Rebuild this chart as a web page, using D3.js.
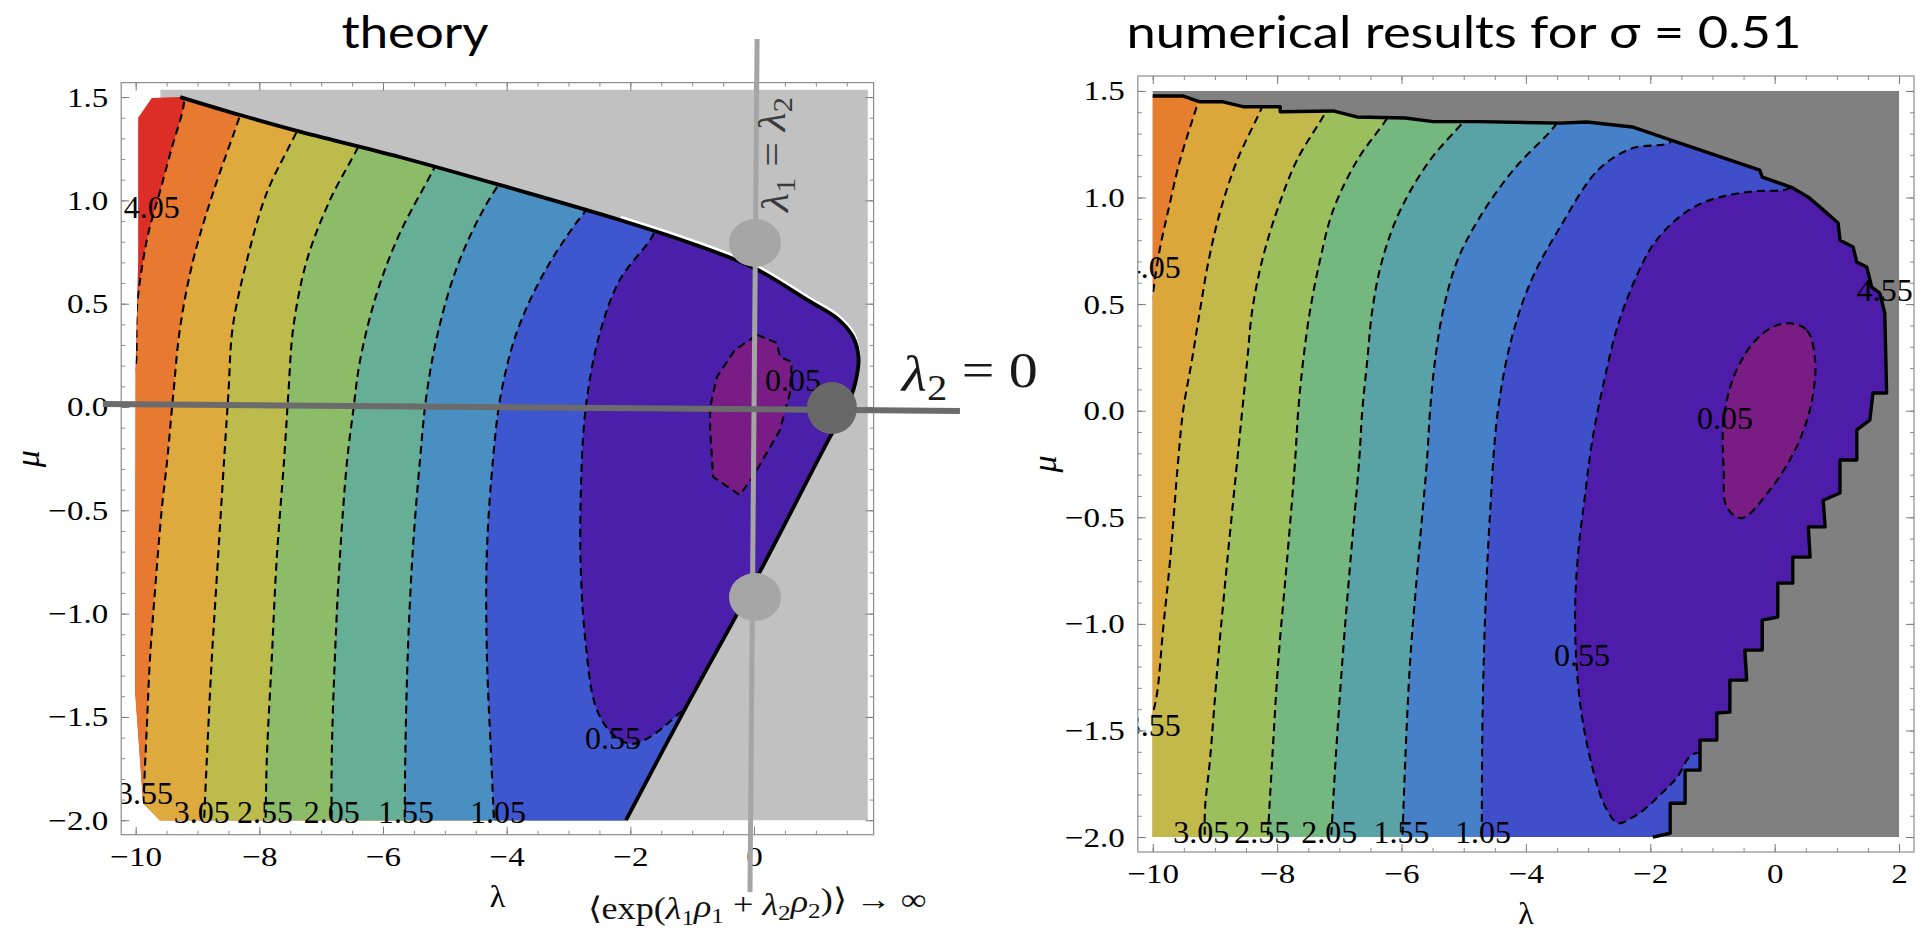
<!DOCTYPE html>
<html>
<head>
<meta charset="utf-8">
<title>theory vs numerical results</title>
<script src="https://cdn.jsdelivr.net/npm/d3@7"></script>
<style>
  body { margin: 0; background: #fff; }
  svg { display: block; }
  .serif { font-family: "Liberation Serif", "Times New Roman", serif; }
</style>
</head>
<body>
<svg id="chart" width="1924" height="934"></svg>
<script>
const svg = d3.select("#chart");
const serif = "Liberation Serif";

// ---------- left panel: theory (points are [lambda, mu]) ----------
const thColors = ["#dc2e26", "#e87930", "#dea93d", "#bcbb4b", "#8cbc68", "#66ae95", "#4a8fc1", "#3e57cf", "#4a20ab", "#7a1c86"];
const thKinds = ["side", "side", "side", "side", "side", "side", "side", "cup", "loop"];
const th405 = [[-10.06, 0.15], [-10.0, 0.2], [-9.98, 0.48], [-9.88, 0.71], [-9.78, 0.86], [-9.61, 1.04], [-9.42, 1.25], [-9.23, 1.45], [-9.18, 1.6]];
const th355 = [[-9.9, -2.05], [-9.87, -1.87], [-9.82, -1.55], [-9.77, -1.225], [-9.69, -0.9], [-9.58, -0.5], [-9.49, -0.257], [-9.39, 0.068], [-9.28, 0.387], [-9.07, 0.711], [-8.75, 1.036], [-8.31, 1.413], [-8.2, 1.52]];
const th305 = [[-8.9, -2.05], [-8.85, -1.71], [-8.77, -1.225], [-8.67, -0.74], [-8.57, -0.257], [-8.5, 0.068], [-8.43, 0.387], [-8.2, 0.711], [-7.88, 1.036], [-7.39, 1.336], [-7.25, 1.43]];
const th255 = [[-7.9, -2.05], [-7.88, -1.71], [-7.8, -1.225], [-7.72, -0.74], [-7.6, -0.257], [-7.53, 0.068], [-7.45, 0.387], [-7.23, 0.711], [-6.86, 1.0], [-6.4, 1.26], [-6.25, 1.36]];
const th205 = [[-6.83, -2.05], [-6.83, -1.71], [-6.78, -1.225], [-6.7, -0.74], [-6.58, -0.257], [-6.48, -0.015], [-6.37, 0.227], [-6.1, 0.55], [-5.73, 0.84], [-5.2, 1.14], [-5.0, 1.26]];
const th155 = [[-5.65, -2.05], [-5.64, -1.7], [-5.6, -1.2], [-5.52, -0.7], [-5.4, -0.25], [-5.3, 0.05], [-5.12, 0.35], [-4.8, 0.68], [-4.35, 0.97], [-3.85, 1.2]];
const th105 = [[-4.2, -2.05], [-4.25, -1.7], [-4.32, -1.2], [-4.32, -0.7], [-4.22, -0.25], [-4.1, 0.05], [-3.85, 0.35], [-3.45, 0.62], [-2.95, 0.86], [-2.45, 1.05]];
const th055 = [[-1.55, 0.9], [-1.65, 0.823], [-2.17, 0.615], [-2.5, 0.35], [-2.72, 0.0], [-2.8, -0.4], [-2.8, -0.8], [-2.72, -1.15], [-2.56, -1.45], [-2.3, -1.58], [-2.0, -1.63], [-1.7, -1.6], [-1.2, -1.48], [-1.0, -1.42]];
const th005 = [[0.05, 0.349], [0.37, 0.31], [0.42, 0.242], [0.61, 0.218], [0.58, 0.068], [0.42, -0.111], [-0.02, -0.339], [-0.23, -0.426], [-0.66, -0.339], [-0.71, -0.111], [-0.71, 0.0], [-0.6, 0.145], [-0.31, 0.276]];
const thLabelText = ["4.05", "3.55", "3.05", "2.55", "2.05", "1.55", "1.05", "0.55", "0.05"];
const thLabelLam = [-9.74, -9.85, -8.93, -7.91, -6.83, -5.63, -4.14, -2.28, 0.63];
const thLabelMu = [0.968, -1.868, -1.96, -1.96, -1.96, -1.96, -1.96, -1.6, 0.13];
// edge of the allowed region (thick black curve) and the remaining corners
const thEdge = [[-9.28, 1.5], [-8.31, 1.413], [-7.39, 1.336], [-5.73, 1.21], [-4.0, 1.065], [-2.17, 0.905], [-1.0, 0.79], [0, 0.673], [0.86, 0.518], [1.34, 0.43], [1.6, 0.34], [1.69, 0.24], [1.64, 0.12], [1.5, 0.0], [1.23, -0.145], [0.05, -0.823], [-1.15, -1.48], [-2.07, -2.0]];
const thCorner = [[-9.61, -2.0], [-9.88, -1.917], [-10.01, -1.37], [-10.0, 0.2], [-9.96, 0.71], [-9.96, 1.4], [-9.74, 1.496]];
const thGray = [[-9.6, 1.535], [1.84, 1.535], [1.84, -2.0], [-9.6, -2.0]];
const thXTicks = [-10, -8, -6, -4, -2, 0];
const thYTicks = [-2, -1.5, -1, -0.5, 0, 0.5, 1, 1.5];
// annotation guides
const guideH = [[-10.53, 0.0145], [3.33, -0.019]];
const guideV = [[0.05, 1.781], [-0.065, -2.348]];
const dotsLight = [[0.016, 0.794], [0.016, -0.92]];
const dotsDark = [[1.26, -0.005]];

// ---------- right panel: numerical results ----------
const nuColors = ["#e67e30", "#dba73b", "#c3b84a", "#9bbf5d", "#74b77f", "#59a3a6", "#4680c8", "#3f4fca", "#4d1ca9", "#791c83"];
const nuKinds = ["side", "side", "side", "side", "side", "side", "side", "cup", "loop"];
const nu405 = [[-10.06, 0.5], [-10.0, 0.55], [-9.96, 0.627], [-9.88, 0.767], [-9.75, 0.94], [-9.56, 1.176], [-9.27, 1.448], [-9.2, 1.52]];
const nu355 = [[-10.06, -1.46], [-10.0, -1.418], [-9.93, -1.325], [-9.83, -1.015], [-9.72, -0.7], [-9.59, -0.231], [-9.51, 0.003], [-9.37, 0.237], [-9.24, 0.471], [-9.1, 0.706], [-8.91, 0.94], [-8.64, 1.176], [-8.24, 1.426], [-8.15, 1.5]];
const nu305 = [[-9.16, -2.05], [-9.16, -1.87], [-9.08, -1.64], [-8.95, -1.17], [-8.8, -0.7], [-8.64, -0.231], [-8.56, 0.003], [-8.48, 0.237], [-8.4, 0.471], [-8.24, 0.706], [-8.0, 0.94], [-7.68, 1.176], [-7.23, 1.396], [-7.1, 1.48]];
const nu255 = [[-8.16, -2.05], [-8.08, -1.64], [-7.98, -1.17], [-7.84, -0.7], [-7.71, -0.231], [-7.66, 0.003], [-7.58, 0.237], [-7.47, 0.471], [-7.31, 0.706], [-7.1, 0.94], [-6.71, 1.176], [-6.23, 1.373], [-6.1, 1.45]];
const nu205 = [[-7.14, -2.05], [-7.06, -1.64], [-6.95, -1.17], [-6.82, -0.7], [-6.68, -0.231], [-6.63, 0.003], [-6.55, 0.237], [-6.47, 0.471], [-6.31, 0.706], [-6.02, 0.94], [-5.54, 1.176], [-5.01, 1.354], [-4.85, 1.42]];
const nu155 = [[-5.99, -2.05], [-5.94, -1.64], [-5.86, -1.17], [-5.73, -0.7], [-5.59, -0.231], [-5.54, 0.003], [-5.46, 0.237], [-5.33, 0.471], [-5.1, 0.706], [-4.74, 0.908], [-4.2, 1.13], [-3.55, 1.33], [-3.4, 1.4]];
const nu105 = [[-4.71, -2.05], [-4.7, -1.5], [-4.66, -1.0], [-4.58, -0.5], [-4.45, 0.0], [-4.22, 0.35], [-3.9, 0.62], [-3.45, 0.861], [-2.84, 1.129], [-2.3, 1.23], [-1.68, 1.26], [-1.6, 1.32]];
const nu055 = [[0.35, 1.1], [0.24, 1.044], [-0.3, 1.03], [-0.76, 1.01], [-1.2, 0.97], [-1.57, 0.9], [-1.9, 0.8], [-2.11, 0.7], [-2.49, 0.43], [-2.75, 0.13], [-2.94, -0.152], [-3.05, -0.4], [-3.16, -0.668], [-3.21, -0.982], [-3.13, -1.37], [-2.92, -1.686], [-2.72, -1.86], [-2.52, -1.935], [-2.3, -1.91], [-2.11, -1.874], [-1.8, -1.79], [-1.57, -1.72], [-1.31, -1.61], [-0.8, -1.62]];
const nu005 = [[0.24, 0.41], [0.52, 0.377], [0.65, 0.237], [0.62, 0.083], [0.52, -0.044], [0.3, -0.2], [-0.08, -0.373], [-0.53, -0.504], [-0.77, -0.452], [-0.82, -0.278], [-0.82, -0.044], [-0.66, 0.158], [-0.35, 0.316], [-0.03, 0.393]];
const nuLabelText = ["4.05", "3.55", "3.05", "2.55", "2.05", "1.55", "1.05", "0.55", "0.05", "4.55"];
const nuLabelLam = [-10.0, -10.0, -9.22, -8.24, -7.16, -6.0, -4.69, -3.1, -0.8, 1.77];
const nuLabelMu = [0.673, -1.475, -1.977, -1.977, -1.977, -1.977, -1.977, -1.146, -0.034, 0.565];
// ragged edge of the converged region, from the top-left corner round to the bottom
const nuEdge = [[-10.0, 1.476], [-9.51, 1.476], [-9.24, 1.449], [-8.87, 1.449], [-8.55, 1.426], [-7.95, 1.426], [-7.95, 1.402], [-7.1, 1.406], [-6.72, 1.378], [-5.94, 1.373], [-5.49, 1.356], [-4.74, 1.356], [-3.45, 1.349], [-3.02, 1.354], [-2.29, 1.331], [-1.68, 1.27], [-0.24, 1.129], [-0.2, 1.096], [0.29, 1.045], [0.54, 1.002], [0.73, 0.955], [1.02, 0.88], [1.05, 0.8], [1.26, 0.768], [1.32, 0.697], [1.48, 0.674], [1.56, 0.58], [1.69, 0.552], [1.77, 0.458], [1.8, 0.083], [1.58, 0.083], [1.53, -0.044], [1.32, -0.09], [1.32, -0.231], [1.05, -0.231], [1.05, -0.386], [0.78, -0.42], [0.81, -0.545], [0.54, -0.545], [0.57, -0.687], [0.29, -0.687], [0.29, -0.809], [0.05, -0.809], [0.05, -0.968], [-0.2, -0.982], [-0.2, -1.123], [-0.48, -1.123], [-0.45, -1.264], [-0.72, -1.264], [-0.72, -1.414], [-0.93, -1.418], [-0.93, -1.545], [-1.2, -1.545], [-1.2, -1.686], [-1.44, -1.686], [-1.44, -1.841], [-1.68, -1.841], [-1.68, -1.982], [-1.96, -2.0]];
const nuGray = [[-10, 1.5], [2, 1.5], [2, -2], [-10, -2]];
const nuXTicks = [-10, -8, -6, -4, -2, 0, 2];
const nuYTicks = [-2, -1.5, -1, -0.5, 0, 0.5, 1, 1.5];

function drawPanel(p) {
  const x = d3.scaleLinear().domain(p.xDomain).range(p.xRange);
  const y = d3.scaleLinear().domain(p.yDomain).range(p.yRange);
  const smooth = d3.line().x(d => x(d[0])).y(d => y(d[1])).curve(d3.curveCatmullRom.alpha(0.5));
  const loop = d3.line().x(d => x(d[0])).y(d => y(d[1])).curve(p.loopCurve);
  const straight = d3.line().x(d => x(d[0])).y(d => y(d[1]));
  const to = d => `L${x(d[0])},${y(d[1])}`;
  const [left, right] = p.xRange, [bottom, top] = p.yRange;
  const g = svg.append("g");
  const defs = svg.append("defs");

  defs.append("clipPath").attr("id", p.id + "-frame").append("rect")
    .attr("x", left).attr("y", top).attr("width", right - left).attr("height", bottom - top);
  defs.append("clipPath").attr("id", p.id + "-dom").append("path")
    .attr("d", p.domain(smooth, straight, to));

  g.append("path").attr("d", straight(p.gray) + "Z").attr("fill", p.grayColor);

  // filled bands, painted from the high levels down
  const field = g.append("g").attr("clip-path", `url(#${p.id}-dom)`);
  field.append("rect").attr("x", left).attr("y", top)
    .attr("width", right - left).attr("height", bottom - top).attr("fill", p.colors[0]);

  const fillPath = (c, kind) => {
    const a = c[0], b = c[c.length - 1];
    if (kind === "loop") return loop(c);
    if (kind === "cup") return smooth(c) + to([9, b[1]]) + to([9, a[1]]) + "Z";
    return smooth(c) + to([b[0], 4]) + to([9, 4]) + to([9, -4]) + to([a[0], -4]) + "Z";
  };
  field.selectAll("path.band")
    .data(p.contours)
    .enter()
    .append("path")
    .attr("class", "band")
    .attr("d", (c, i) => fillPath(c, p.kinds[i]))
    .attr("fill", (c, i) => p.colors[i + 1]);

  field.selectAll("path.level")
    .data(p.contours)
    .enter()
    .append("path")
    .attr("class", "level")
    .attr("d", (c, i) => p.kinds[i] === "loop" ? loop(c) : smooth(c))
    .attr("fill", "none")
    .attr("stroke", "#000")
    .attr("stroke-width", 2.1)
    .attr("stroke-dasharray", "8,5");

  p.edge(g, smooth, straight, x, y);

  // contour labels
  g.append("g").attr("clip-path", `url(#${p.id}-frame)`)
    .selectAll("text")
    .data(p.labelText)
    .enter()
    .append("text")
    .attr("class", "serif")
    .attr("x", (d, i) => x(p.labelLam[i]))
    .attr("y", (d, i) => y(p.labelMu[i]))
    .attr("text-anchor", "middle")
    .attr("dominant-baseline", "central")
    .style("font-family", serif)
    .style("font-size", "32px")
    .text(d => d);

  // frame with inward ticks
  const xMinor = p.xMinor, yMinor = d3.range(-20, 16).map(v => v / 10);
  const sides = [
    [d3.axisBottom, x, `translate(0,${bottom})`, p.xTicks, xMinor, d3.format("d")],
    [d3.axisTop, x, `translate(0,${top})`, p.xTicks, xMinor, null],
    [d3.axisLeft, y, `translate(${left},0)`, p.yTicks, yMinor, d3.format(".1f")],
    [d3.axisRight, y, `translate(${right},0)`, p.yTicks, yMinor, null]
  ];
  sides.forEach(([make, scale, tr, major, minor, fmt]) => {
    const minorAxis = g.append("g").attr("transform", tr)
      .call(make(scale).tickValues(minor).tickSize(-4).tickSizeOuter(0).tickFormat(() => ""));
    minorAxis.select(".domain").remove();
    minorAxis.attr("color", "#8a8a8a");
    const majorAxis = g.append("g").attr("transform", tr)
      .call(make(scale).tickValues(major).tickSize(-8).tickSizeOuter(0).tickPadding(11)
        .tickFormat(fmt || (() => "")));
    majorAxis.select(".domain").remove();
    majorAxis.attr("color", "#7a7a7a");
    majorAxis.selectAll("text")
      .attr("fill", "#000")
      .attr("class", "serif")
      .style("font-family", serif)
      .style("font-size", "28px")
      .attr("transform", "scale(1.18,1)");
  });
  g.append("rect").attr("x", left).attr("y", top)
    .attr("width", right - left).attr("height", bottom - top)
    .attr("fill", "none").attr("stroke", "#8c8c8c").attr("stroke-width", 1.2);

  // axis names
  g.append("text")
    .attr("x", (left + right) / 2).attr("y", bottom + 72)
    .attr("text-anchor", "middle")
    .style("font-family", serif).style("font-size", "32px")
    .text("λ");
  g.append("text")
    .attr("transform", `translate(${left - 82},${(top + bottom) / 2}) rotate(-90)`)
    .attr("text-anchor", "middle")
    .style("font-family", serif).style("font-size", "34px").style("font-style", "italic")
    .text("μ");

  return { x, y, g };
}

// ---- left panel ----
const th = drawPanel({
  id: "th",
  xDomain: [-10.234, 1.934], xRange: [121.2, 873.6],
  yDomain: [-2.07, 1.57], yRange: [834.7, 82.6],
  colors: thColors, kinds: thKinds,
  contours: [th405, th355, th305, th255, th205, th155, th105, th055, th005],
  loopCurve: d3.curveLinearClosed,
  labelText: thLabelText, labelLam: thLabelLam, labelMu: thLabelMu,
  gray: thGray, grayColor: "#c0c1c0",
  xTicks: thXTicks, yTicks: thYTicks,
  xMinor: d3.range(-20, 4).map(v => v / 2),
  domain: (smooth, straight, to) => smooth(thEdge) + thCorner.map(to).join("") + "Z",
  edge: (g, smooth) => {
    g.append("path").attr("d", smooth(thEdge.slice(5, 12)))
      .attr("transform", "translate(1,-3)")
      .attr("fill", "none").attr("stroke", "#fff").attr("stroke-width", 2.5);
    g.append("path").attr("d", smooth(thEdge))
      .attr("fill", "none").attr("stroke", "#000").attr("stroke-width", 3.8);
  }
});

// ---- right panel ----
const nu = drawPanel({
  id: "nu",
  xDomain: [-10.24, 2.24], xRange: [1137.8, 1914],
  yDomain: [-2.07, 1.57], yRange: [852, 76],
  colors: nuColors, kinds: nuKinds,
  contours: [nu405, nu355, nu305, nu255, nu205, nu155, nu105, nu055, nu005],
  loopCurve: d3.curveCatmullRomClosed.alpha(0.5),
  labelText: nuLabelText, labelLam: nuLabelLam, labelMu: nuLabelMu,
  gray: nuGray, grayColor: "#808080",
  xTicks: nuXTicks, yTicks: nuYTicks,
  xMinor: d3.range(-20, 5).map(v => v / 2),
  domain: (smooth, straight, to) => straight(nuEdge) + to([-10, -2]) + "Z",
  edge: (g, smooth, straight) => {
    g.append("path").attr("d", straight(nuEdge))
      .attr("fill", "none").attr("stroke", "#000").attr("stroke-width", 3.4)
      .attr("stroke-linejoin", "round");
  }
});

// ---- annotations on the theory panel ----
const guide = d3.line().x(d => th.x(d[0])).y(d => th.y(d[1]));
const notes = svg.append("g");
notes.append("path").attr("d", guide(guideV))
  .attr("stroke", "#a5a5a5").attr("stroke-width", 5).attr("fill", "none");
notes.append("path").attr("d", guide(guideH))
  .attr("stroke", "#6b6b6b").attr("stroke-width", 6).attr("fill", "none");
notes.selectAll("ellipse.light")
  .data(dotsLight).enter().append("ellipse")
  .attr("class", "light")
  .attr("cx", d => th.x(d[0])).attr("cy", d => th.y(d[1]))
  .attr("rx", 26).attr("ry", 24).attr("fill", "#a6a6a6");
notes.selectAll("ellipse.dark")
  .data(dotsDark).enter().append("ellipse")
  .attr("class", "dark")
  .attr("cx", d => th.x(d[0])).attr("cy", d => th.y(d[1]))
  .attr("rx", 25).attr("ry", 26).attr("fill", "#686868");

function mathText(sel, parts) {
  parts.forEach(([s, kind]) => {
    const t = sel.append("tspan").text(s);
    if (kind === "i") t.style("font-style", "italic");
    if (kind === "sub") t.style("font-size", "70%").attr("dy", "0.25em");
    if (kind === "up") t.attr("dy", "-0.25em");
    if (kind === "upi") t.attr("dy", "-0.25em").style("font-style", "italic");
  });
}

const t1 = notes.append("text")
  .attr("transform", `translate(${th.x(0.55)},${th.y(0.944)}) rotate(-90)`)
  .style("font-family", serif).style("font-size", "38px").attr("fill", "#3a3a3a")
  .attr("textLength", 115).attr("lengthAdjust", "spacingAndGlyphs");
mathText(t1, [["λ", "i"], ["1", "sub"], [" = ", "up"], ["λ", "i"], ["2", "sub"]]);

const t2 = notes.append("text")
  .attr("x", th.x(2.39)).attr("y", th.y(0.077))
  .style("font-family", serif).style("font-size", "50px").attr("fill", "#1a1a1a")
  .attr("textLength", 136).attr("lengthAdjust", "spacingAndGlyphs");
mathText(t2, [["λ", "i"], ["2", "sub"], [" = 0", "up"]]);

const t3 = notes.append("text")
  .attr("x", th.x(0.05)).attr("y", th.y(-2.48))
  .attr("text-anchor", "middle")
  .style("font-family", serif).style("font-size", "31px").attr("fill", "#111")
  .attr("textLength", 339).attr("lengthAdjust", "spacingAndGlyphs");
mathText(t3, [["⟨exp(", ""], ["λ", "i"], ["1", "sub"], ["ρ", "upi"], ["1", "sub"], [" + ", "up"],
  ["λ", "i"], ["2", "sub"], ["ρ", "upi"], ["2", "sub"], [")⟩ → ∞", "up"]]);

// ---- titles ----
svg.append("text")
  .attr("x", 415).attr("y", 48)
  .attr("text-anchor", "middle")
  .style("font-family", "Lato, 'Open Sans', sans-serif").style("font-size", "44px")
  .attr("textLength", 147).attr("lengthAdjust", "spacingAndGlyphs")
  .text("theory");
svg.append("text")
  .attr("x", 1464).attr("y", 48)
  .attr("text-anchor", "middle")
  .style("font-family", "Lato, 'Open Sans', sans-serif").style("font-size", "44px")
  .attr("textLength", 675).attr("lengthAdjust", "spacingAndGlyphs")
  .text("numerical results for σ = 0.51");
</script>
</body>
</html>
